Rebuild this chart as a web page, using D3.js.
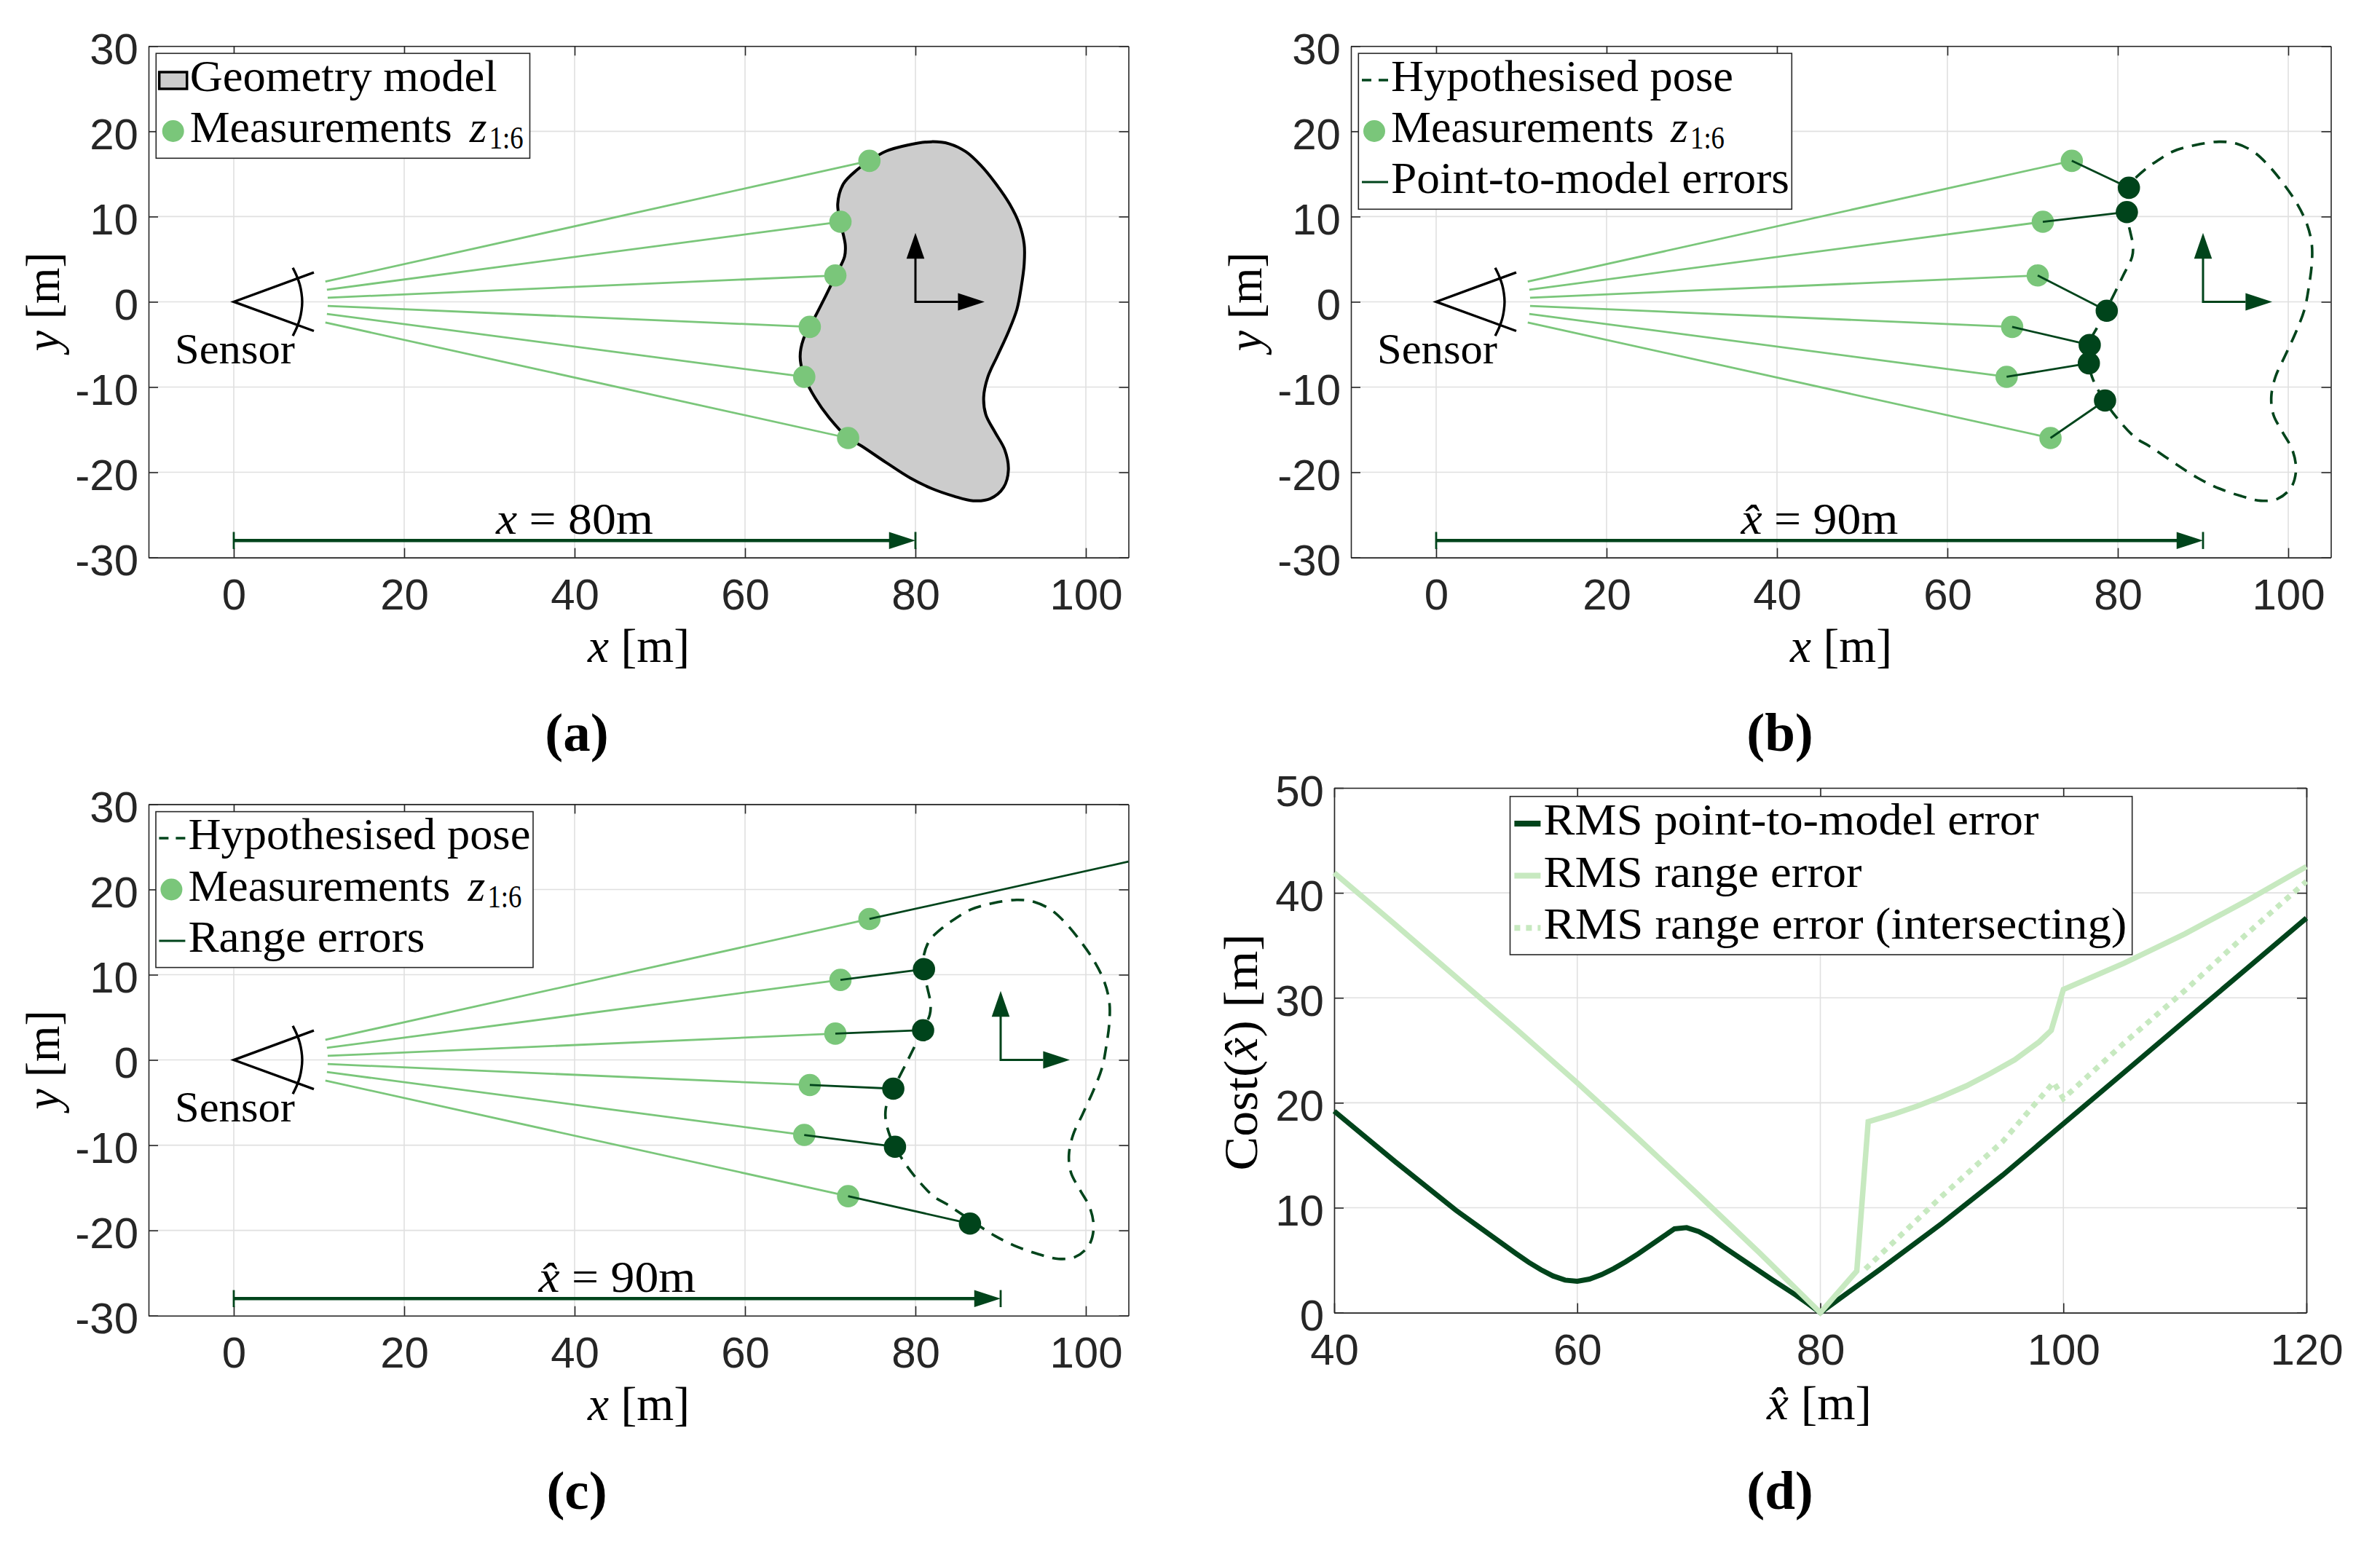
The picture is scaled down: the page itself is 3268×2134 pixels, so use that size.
<!DOCTYPE html>
<html>
<head>
<meta charset="utf-8">
<script src="https://cdn.jsdelivr.net/npm/d3@7"></script>
<style>
    html, body { margin: 0; padding: 0; background: #fff; }
    svg { display: block; }
    .tick-layer text { font-family: "Liberation Sans", sans-serif; font-size: 60px; fill: #262626; }
    .serif { font-family: "Liberation Serif", serif; fill: #000; }
</style>
</head>
<body>
<div id="chart"></div>
<script>
// panels a-c: measurements, in metres
var measureX = [74.6, 71.2, 70.6, 67.6, 66.95, 72.1];
var measureY = [16.54, 9.39, 3.09, -2.94, -8.8, -15.98];
var rayStartX = [10.75, 10.93, 11.02, 11.02, 10.93, 10.75];
var rayStartY = [2.37, 1.42, 0.48, -0.48, -1.42, -2.42];

// nearest points on the model shifted to 90m (panel b)
var modelPointX = [81.3, 81.06, 78.7, 76.7, 76.6, 78.5];
var modelPointY = [13.38, 10.53, -1.05, -5.06, -7.21, -11.58];

// range intersections at 90m (panel c), the first ray never hits
var rangePointX = [81, 80.9, 77.4, 77.6, 86.4];
var rangePointY = [10.65, 3.49, -3.37, -10.18, -19.2];
var rangeEndX = [105, 81, 80.9, 77.4, 77.6, 86.4];
var rangeEndY = [23.27, 10.65, 3.49, -3.37, -10.18, -19.2];

// shape outline relative to the pose centre
var outlineDx = [1.88, 3.93, 5.93, 7.64, 9.34, 11.05, 12.19, 12.76, 12.76, 12.42, 11.91, 10.91, 9.63, 8.49, 8.01, 8.26, 9.34, 10.48, 10.91, 10.34, 8.77, 6.78, 4.5, 1.94, -0.63, -3.48, -6.32, -7.89, -10.17, -11.74, -13.02, -13.53, -13.16, -12.39, -10.88, -9.37, -8.32, -8.23, -8.55, -8.83, -9.12, -8.46, -6.89, -5.38, -3.48, -0.91];
var outlineDy = [18.78, 18.55, 17.6, 16.04, 13.98, 11.48, 9.12, 6.77, 4.41, 1.77, -0.88, -3.53, -6.33, -8.83, -11.18, -13.24, -15.3, -17.36, -19.72, -21.78, -23.1, -23.34, -22.8, -21.92, -20.66, -18.83, -16.92, -15.98, -13.54, -11.33, -8.83, -6.47, -4.41, -2.94, 0, 3.09, 5.3, 6.62, 8.24, 9.42, 11.48, 13.83, 15.45, 16.54, 17.66, 18.39];

// sensor glyph
var sensorEdgeX = [9.4, 0, 9.4];
var sensorEdgeY = [3.45, 0, -3.42];
var sensorArcX = [6.93, 7.4, 7.75, 7.95, 8.03, 7.95, 7.75, 7.4, 6.93];
var sensorArcY = [3.99, 3, 2, 1, 0, -1, -2, -3, -3.99];

// panel d: cost curves
var pointErrX = [40, 45, 50, 52, 53, 55, 56, 57, 58, 59, 60, 61, 62, 63, 64, 65, 66, 67, 68, 69, 70, 71, 72, 76, 78, 79, 80, 85, 90, 95, 100, 105, 110, 115, 120];
var pointErrY = [19.2, 14.4, 9.77, 8.1, 7.27, 5.6, 4.8, 4.1, 3.5, 3.1, 3, 3.2, 3.63, 4.2, 4.86, 5.6, 6.4, 7.2, 7.99, 8.1, 7.73, 7.1, 6.3, 3.17, 1.67, 0.85, 0, 4.2, 8.5, 13.1, 18, 22.9, 27.8, 32.7, 37.6];
var rangeErrX = [40, 45, 50, 55, 60, 65, 70, 75, 80, 83, 83.94, 86, 88, 90, 92, 94, 96, 98, 99, 100, 105, 110, 115, 120];
var rangeErrY = [41.9, 37, 32, 27, 21.9, 16.6, 11.2, 5.7, 0, 3.97, 18.2, 18.9, 19.7, 20.6, 21.6, 22.8, 24.1, 25.8, 26.9, 30.8, 33.3, 36.1, 39.2, 42.5];
var intersectX = [83.7, 90, 95, 99.2, 100, 105, 110, 115, 120];
var intersectY = [4.16, 11.1, 16.3, 21.95, 20.4, 25.7, 30.7, 36, 41.1];

var xTicks = [0, 20, 40, 60, 80, 100];
var yTicks = [-30, -20, -10, 0, 10, 20, 30];
var costXTicks = [40, 60, 80, 100, 120];
var costYTicks = [0, 10, 20, 30, 40, 50];

var dark = '#00441b';
var mid = '#7ac67a';
var pale = '#c7e9c0';

var svg = d3.select('#chart').append('svg')
    .attr('width', 3268)
    .attr('height', 2134)
    .style('background', '#fff');

// parts: array of [string, italic]
var label = function(g, x, y, parts, size, width, anchor) {
    var t = g.append('text')
        .attr('class', 'serif')
        .attr('x', x)
        .attr('y', y)
        .attr('font-size', size)
        .attr('text-anchor', anchor || 'start')
        .attr('xml:space', 'preserve');
    parts.forEach(function(p) {
        t.append('tspan')
            .attr('font-style', p[1] ? 'italic' : 'normal')
            .text(p[0]);
    });
    if (width) {
        t.attr('textLength', width).attr('lengthAdjust', 'spacingAndGlyphs');
    }
    return t;
};

var add_axes = function(g, x, y, xt, yt, box) {
    var w = box.right - box.left;
    var h = box.bottom - box.top;
    var layer = g.append('g').attr('class', 'tick-layer');
    var blank = function() { return ''; };
    var txt = function(d) { return String(d); };

    var axes = [
        [d3.axisBottom(x).tickValues(xt).tickFormat(txt).tickSizeInner(-13).tickPadding(29), 0, h],
        [d3.axisTop(x).tickValues(xt).tickFormat(blank).tickSizeInner(-13), 0, 0],
        [d3.axisLeft(y).tickValues(yt).tickFormat(txt).tickSizeInner(-13).tickPadding(14), 0, 0],
        [d3.axisRight(y).tickValues(yt).tickFormat(blank).tickSizeInner(-13), w, 0]
    ];
    axes.forEach(function(a, i) {
        var n = layer.append('g')
            .attr('transform', 'translate(' + a[1] + ',' + a[2] + ')')
            .call(a[0].tickSizeOuter(0));
        n.selectAll('path,line').attr('stroke', '#262626').attr('stroke-width', 1.6);
        if (i == 2) n.selectAll('text').attr('dy', '.4em');
    });
    layer.selectAll('text').attr('font-size', null).attr('font-family', null);
};

var add_grid = function(g, x, y, xt, yt, box) {
    var w = box.right - box.left;
    var h = box.bottom - box.top;
    var grid = g.append('g');
    grid.selectAll('line.gx').data(xt).enter().append('line')
        .attr('x1', x).attr('x2', x).attr('y1', 0).attr('y2', h);
    grid.selectAll('line.gy').data(yt).enter().append('line')
        .attr('y1', y).attr('y2', y).attr('x1', 0).attr('x2', w);
    grid.selectAll('line').attr('stroke', '#e0e0e0').attr('stroke-width', 1.6);
};

var add_legend = function(g, box, rows) {
    g.append('rect')
        .attr('x', box.x).attr('y', box.y)
        .attr('width', box.w).attr('height', box.h)
        .attr('fill', '#fff').attr('stroke', '#262626').attr('stroke-width', 1.6);

    rows.forEach(function(r, i) {
        var base = box.base + i * box.step;
        var sx = box.textX - 38;
        var sy = base - 15;
        if (r.kind == 'patch') {
            g.append('rect')
                .attr('x', sx - 4).attr('y', base - 26).attr('width', 38).attr('height', 23)
                .attr('fill', '#cccccc').attr('stroke', '#000').attr('stroke-width', 3.5);
        } else if (r.kind == 'dot') {
            g.append('circle')
                .attr('cx', sx + 15).attr('cy', sy).attr('r', 15).attr('fill', mid);
        } else {
            g.append('line')
                .attr('x1', sx - 2).attr('x2', sx + 34)
                .attr('y1', sy).attr('y2', sy)
                .attr('stroke', r.color)
                .attr('stroke-width', r.width)
                .attr('stroke-dasharray', r.dash || null);
        }
        label(g, box.textX, base, [[r.text, false]], 61, r.len);
        if (r.kind == 'dot') {
            label(g, box.textX + 384, base, [['z', true]], 61);
            label(g, box.textX + 411, base + 9, [['1:6', false]], 44, 47);
        }
    });
};

var poly = function(x, y, xs, ys) {
    return d3.line()(xs.map(function(v, i) { return [x(v), y(ys[i])]; }));
};

var trace = function(x, y, xs, ys, curve) {
    var pts = xs.map(function(v, i) { return [v, ys[i]]; });
    return d3.line()
        .x(function(d) { return x(d[0]); })
        .y(function(d) { return y(d[1]); })
        .curve(curve || d3.curveLinear)(pts);
};

var add_scene = function(cfg) {
    var box = cfg.box;
    var g = svg.append('g').attr('transform', 'translate(' + box.left + ',' + box.top + ')');
    var abs = svg.append('g');
    var x = d3.scaleLinear().domain([-10, 105]).range([0, box.right - box.left]);
    var y = d3.scaleLinear().domain([-30, 30]).range([box.bottom - box.top, 0]);

    add_grid(g, x, y, xTicks, yTicks, box);

    var pose = cfg.pose;
    var shapeX = outlineDx.map(function(d) { return d + pose; });
    var outline = g.append('path')
        .attr('d', trace(x, y, shapeX, outlineDy, d3.curveCatmullRomClosed))
        .attr('stroke', cfg.solid ? '#000' : dark)
        .attr('stroke-width', cfg.solid ? 4 : 3.6)
        .attr('fill', cfg.solid ? '#cccccc' : 'none');
    if (!cfg.solid) outline.attr('stroke-dasharray', '18,12');

    add_axes(g, x, y, xTicks, yTicks, box);

    // sensor
    g.append('path').attr('d', poly(x, y, sensorEdgeX, sensorEdgeY))
        .attr('fill', 'none').attr('stroke', '#000').attr('stroke-width', 3.4);
    g.append('path').attr('d', trace(x, y, sensorArcX, sensorArcY, d3.curveCatmullRom))
        .attr('fill', 'none').attr('stroke', '#000').attr('stroke-width', 3.4);
    label(abs, box.left + 36, box.top + 436, [['Sensor', false]], 60, 165);

    // pose frame
    var frame = cfg.solid ? '#000' : dark;
    g.append('path').attr('d', poly(x, y, [pose, pose, pose + 5], [5.1, 0, 0]))
        .attr('fill', 'none').attr('stroke', frame).attr('stroke-width', 3);
    g.append('path').attr('d', poly(x, y, [pose - 1.05, pose, pose + 1.05], [5.06, 8.09, 5.06]) + 'Z').attr('fill', frame);
    g.append('path').attr('d', poly(x, y, [pose + 4.99, pose + 8.12, pose + 4.99], [1.03, 0, -1.03]) + 'Z').attr('fill', frame);

    // rays
    measureX.forEach(function(m, i) {
        g.append('line')
            .attr('x1', x(rayStartX[i])).attr('y1', y(rayStartY[i]))
            .attr('x2', x(m)).attr('y2', y(measureY[i]))
            .attr('stroke', mid).attr('stroke-width', 2.8);
    });

    g.selectAll('circle.m').data(measureX).enter().append('circle')
        .attr('cx', function(d) { return x(d); })
        .attr('cy', function(d, i) { return y(measureY[i]); })
        .attr('r', 15.3)
        .attr('fill', mid);

    if (cfg.errX) {
        cfg.errX.forEach(function(e, i) {
            g.append('line')
                .attr('x1', x(measureX[i])).attr('y1', y(measureY[i]))
                .attr('x2', x(e)).attr('y2', y(cfg.errY[i]))
                .attr('stroke', dark).attr('stroke-width', 2.8);
        });
        g.selectAll('circle.e').data(cfg.dotX).enter().append('circle')
            .attr('cx', function(d) { return x(d); })
            .attr('cy', function(d, i) { return y(cfg.dotY[i]); })
            .attr('r', 15.3)
            .attr('fill', dark);
    }

    // distance arrow
    g.append('path').attr('d', poly(x, y, [0, pose - 3], [-28, -28]))
        .attr('stroke', dark).attr('stroke-width', 4.5).attr('fill', 'none');
    g.append('path').attr('d', poly(x, y, [0, 0], [-27, -29]))
        .attr('stroke', dark).attr('stroke-width', 2.8);
    g.append('path').attr('d', poly(x, y, [pose, pose], [-27, -29]))
        .attr('stroke', dark).attr('stroke-width', 2.8);
    g.append('path').attr('d', poly(x, y, [pose - 3.1, pose, pose - 3.1], [-27, -28, -29]) + 'Z').attr('fill', dark);
    label(abs, box.left + x(cfg.distAt), box.top + 670, cfg.distText, 62, 216, 'middle');

    label(abs, box.left + 673, box.bottom + 143, [['x', true], ['\u00a0[m]', false]], 66, 140, 'middle');
    label(abs, 0, 0, [['y', true], ['\u00a0[m]', false]], 66, 136, 'middle')
        .attr('transform', 'translate(' + (box.left - 123) + ',' + (box.top + 351) + ') rotate(-90)');

    add_legend(abs, cfg.legend, cfg.rows);

    label(abs, cfg.capX, cfg.capY, [[cfg.cap, false]], 75, null, 'middle').attr('font-weight', 'bold');
};

var hatX = 'x\u0302';

add_scene({
    box: {left: 204, right: 1549.5, top: 63.3, bottom: 765.6},
    pose: 80, solid: true,
    distAt: 40,
    distText: [['x', true], [' = 80m', false]],
    cap: '(a)', capX: 792, capY: 1031,
    legend: {x: 214.3, y: 73.3, w: 513.2, h: 144, textX: 260.7, base: 125, step: 70},
    rows: [
        {kind: 'patch', text: 'Geometry model', len: 422},
        {kind: 'dot', text: 'Measurements', len: 360}
    ]
});

add_scene({
    box: {left: 1855, right: 3200.5, top: 63.3, bottom: 765.6},
    pose: 90,
    distAt: 45,
    distText: [[hatX, true], [' = 90m', false]],
    errX: modelPointX, errY: modelPointY, dotX: modelPointX, dotY: modelPointY,
    cap: '(b)', capX: 2444, capY: 1031,
    legend: {x: 1865.3, y: 73.3, w: 595, h: 214, textX: 1910, base: 125, step: 70},
    rows: [
        {kind: 'line', color: dark, width: 3.6, dash: '13,10', text: 'Hypothesised pose', len: 470},
        {kind: 'dot', text: 'Measurements', len: 361},
        {kind: 'line', color: dark, width: 2.8, text: 'Point-to-model errors', len: 547}
    ]
});

add_scene({
    box: {left: 204, right: 1549.5, top: 1104.4, bottom: 1806.7},
    pose: 90,
    distAt: 45,
    distText: [[hatX, true], [' = 90m', false]],
    errX: rangeEndX, errY: rangeEndY, dotX: rangePointX, dotY: rangePointY,
    cap: '(c)', capX: 792, capY: 2072,
    legend: {x: 214, y: 1114.6, w: 518, h: 214, textX: 258.4, base: 1166, step: 70.5},
    rows: [
        {kind: 'line', color: dark, width: 3.6, dash: '13,10', text: 'Hypothesised pose', len: 470},
        {kind: 'dot', text: 'Measurements', len: 360},
        {kind: 'line', color: dark, width: 2.8, text: 'Range errors', len: 325}
    ]
});

var add_cost = function() {
    var box = {left: 1832, right: 3167, top: 1082, bottom: 1802.6};
    var g = svg.append('g').attr('transform', 'translate(' + box.left + ',' + box.top + ')');
    var abs = svg.append('g');
    var x = d3.scaleLinear().domain([40, 120]).range([0, box.right - box.left]);
    var y = d3.scaleLinear().domain([0, 50]).range([box.bottom - box.top, 0]);

    add_grid(g, x, y, costXTicks, costYTicks, box);
    add_axes(g, x, y, costXTicks, costYTicks, box);

    g.append('path').attr('d', trace(x, y, pointErrX, pointErrY))
        .attr('fill', 'none').attr('stroke', dark).attr('stroke-width', 7);
    g.append('path').attr('d', trace(x, y, intersectX, intersectY))
        .attr('fill', 'none').attr('stroke', pale).attr('stroke-width', 7.5).attr('stroke-dasharray', '8,8');
    g.append('path').attr('d', trace(x, y, rangeErrX, rangeErrY))
        .attr('fill', 'none').attr('stroke', pale).attr('stroke-width', 7.5);

    label(abs, 2498, 1949, [[hatX, true], ['\u00a0[m]', false]], 66, 144, 'middle');
    label(abs, 0, 0, [['Cost(', false], [hatX, true], [')\u00a0[m]', false]], 66, 325, 'middle')
        .attr('transform', 'translate(1726,1445) rotate(-90)');

    add_legend(abs, {x: 2073.5, y: 1093.7, w: 854.2, h: 217.3, textX: 2119.4, base: 1146, step: 71.6}, [
        {kind: 'line', color: dark, width: 8, text: 'RMS point-to-model error', len: 680},
        {kind: 'line', color: pale, width: 8, text: 'RMS range error', len: 437},
        {kind: 'line', color: pale, width: 8, dash: '8,8', text: 'RMS range error (intersecting)', len: 801}
    ]);

    label(abs, 2444, 2072, [['(d)', false]], 75, null, 'middle').attr('font-weight', 'bold');
};
add_cost();
</script>
</body>
</html>
